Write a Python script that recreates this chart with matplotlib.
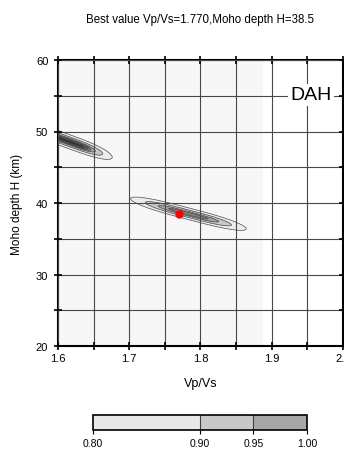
"""H-kappa stacking result for station DAH."""

import matplotlib
matplotlib.use('Agg')
import matplotlib.pyplot as plt
import numpy as np
from matplotlib.colors import BoundaryNorm, ListedColormap
from matplotlib.colorbar import ColorbarBase

plt.rcParams['font.family'] = ['Liberation Sans', 'DejaVu Sans']

# stacking peaks (normalised amplitude)
peak_vpvs = [1.615, 1.783]
peak_h = [48.6, 38.5]
peak_amp = [1.0, 0.978]
peak_slope = [-36.0, -26.0]      # km per unit Vp/Vs along the ridge
peak_length = [0.08, 0.11]       # half-length scale along Vp/Vs
peak_width = [1.5, 1.3]          # sigma across, km

best_vpvs = 1.770
best_h = 38.5
searched_vpvs = (1.6, 1.888)

fill_levels = [0.8, 0.9, 0.95, 0.97, 0.98, 0.99, 1.01]
fill_colors = ['#ececec', '#c8c8c8', '#a4a4a4', '#848484', '#5c5c5c', '#343434']
cbar_bounds = [0.80, 0.90, 0.95, 1.00]
cbar_colors = ['#e8e8e8', '#c8c8c8', '#a8a8a8']

vv = np.linspace(1.6, 2.0, 401)
hh = np.linspace(20, 60, 401)
V, H = np.meshgrid(vv, hh)
field = np.zeros_like(V)
for v0, h0, a, s, L, w in zip(peak_vpvs, peak_h, peak_amp, peak_slope,
                              peak_length, peak_width):
    ridge = h0 + s * (V - v0)
    f = a * np.exp(-0.5 * (np.abs((V - v0) / L) ** 3 + ((H - ridge) / w) ** 2))
    field = np.maximum(field, f)

fig = plt.figure(figsize=(3.44, 4.52), dpi=100)
ax = fig.add_axes([58 / 344, 1 - 347 / 452, 285 / 344, 286 / 452])

ax.axvspan(*searched_vpvs, color='#f7f7f7', zorder=0, lw=0)
ax.contourf(V, H, field, levels=fill_levels, colors=fill_colors, zorder=1)
ax.contour(V, H, field, levels=fill_levels[:-1], colors='#505050',
           linewidths=0.5, zorder=2)
ax.plot(best_vpvs, best_h, 'o', color='red', ms=5, zorder=4)

ax.set_xlim(1.6, 2.0)
ax.set_ylim(20, 60)
ax.set_xticks(np.arange(1.6, 2.01, 0.1))
ax.set_xticks(np.arange(1.65, 2.0, 0.1), minor=True)
ax.set_yticks(np.arange(20, 61, 10))
ax.set_yticks(np.arange(25, 60, 10), minor=True)
ax.set_xticklabels(['1.6', '1.7', '1.8', '1.9', '2.0'])
ax.grid(which='both', color='#484848', lw=0.8, zorder=3)
ax.set_axisbelow(False)
for sp in ax.spines.values():
    sp.set_linewidth(1.5)
ax.tick_params(which='both', direction='inout', length=6, width=1.2,
               top=True, right=True, labelsize=8)
ax.tick_params(axis='x', pad=2)
ax.tick_params(axis='y', pad=4)

ax.text(0.888, 0.878, 'DAH', transform=ax.transAxes, fontsize=14,
        ha='center', va='center', zorder=5,
        bbox=dict(facecolor='white', edgecolor='none', pad=2))

ax.set_xlabel('Vp/Vs', fontsize=9, labelpad=10)
ax.set_ylabel('Moho depth H (km)', fontsize=8.5, labelpad=9)
fig.text(0.581, 1 - 20 / 452,
         f'Best value Vp/Vs={best_vpvs:.3f},Moho depth H={best_h}',
         fontsize=8.3, ha='center', va='center')

cax = fig.add_axes([93 / 344, 1 - 431 / 452, 214 / 344, 15 / 452])
cb = ColorbarBase(cax, cmap=ListedColormap(cbar_colors),
                  norm=BoundaryNorm(cbar_bounds, 3), boundaries=cbar_bounds,
                  spacing='proportional', orientation='horizontal',
                  ticks=cbar_bounds)
cb.set_ticklabels([f'{b:.2f}' for b in cbar_bounds])
cb.outline.set_linewidth(1.2)
cax.tick_params(labelsize=7.5, length=3, direction='out', pad=3)
for b in cbar_bounds[1:-1]:
    cax.axvline(b, color='#404040', lw=0.8)

fig.savefig('out.png', dpi=100)
